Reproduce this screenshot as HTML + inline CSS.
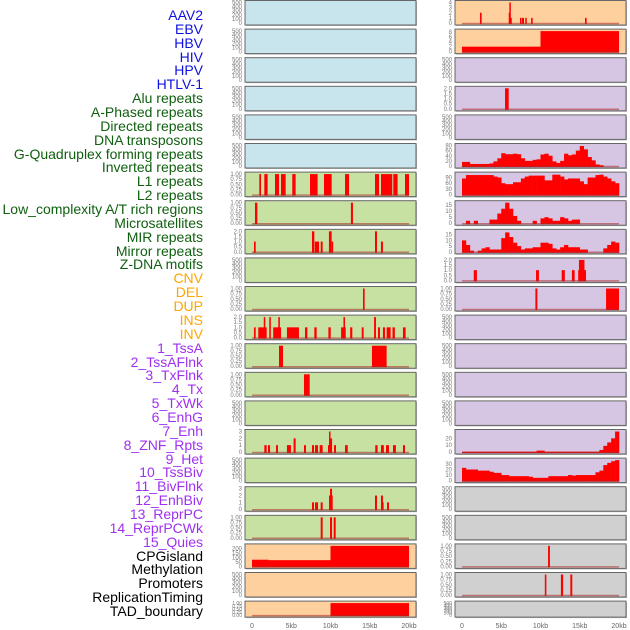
<!DOCTYPE html>
<html><head><meta charset="utf-8">
<style>
html,body{margin:0;padding:0;background:#fff;}
body{width:630px;height:630px;overflow:hidden;position:relative;font-family:"Liberation Sans",sans-serif;}
.lbl{position:absolute;right:427px;font-size:14px;line-height:14px;white-space:nowrap;}
svg{position:absolute;left:0;top:0;}
</style></head>
<body>
<div id="labels"></div>
<svg id="chart" width="630" height="630"></svg>
<script>
// ---- labels ----
const labelNames=["AAV2","EBV","HBV","HIV","HPV","HTLV-1","Alu repeats","A-Phased repeats","Directed repeats","DNA transposons","G-Quadruplex forming repeats","Inverted repeats","L1 repeats","L2 repeats","Low_complexity A/T rich regions","Microsatellites","MIR repeats","Mirror repeats","Z-DNA motifs","CNV","DEL","DUP","INS","INV","1_TssA","2_TssAFlnk","3_TxFlnk","4_Tx","5_TxWk","6_EnhG","7_Enh","8_ZNF_Rpts","9_Het","10_TssBiv","11_BivFlnk","12_EnhBiv","13_ReprPC","14_ReprPCWk","15_Quies","CPGisland","Methylation","Promoters","ReplicationTiming","TAD_boundary"];
const labelGroups=[6,13,5,15,5];
const groupColors=["#1010e0","#106010","#ffa500","#a030f0","#000000"];

// ---- interval data [startKb, endKb, value] ----
const L1rep=[[0.93,1.15,1],[1.57,1.99,1],[2.93,3.44,1],[3.69,4.29,1],[5.13,5.56,1],[7.39,8.36,1],[9.17,10.15,1],[11.85,12.36,1],[15.67,16.18,1],[16.43,17.87,1],[18.0,18.55,1],[19.49,20,1]];
const L7rep=[[0.38,0.68,1],[12.6,12.86,1]];
const L8rep=[[0.25,0.47,1],[7.64,7.94,2],[8.0,8.54,1],[8.75,9.0,1],[9.8,10.15,2],[10.15,10.3,1],[15.67,15.92,2],[16.43,16.68,1]];
const L10rep=[[14.14,14.35,1]];
const L11rep=[[0.25,0.47,1],[0.8,1.87,1],[1.5,1.65,2],[2.2,2.4,2],[2.7,2.93,1],[2.93,3.7,1],[3.35,3.55,2],[4.45,5.98,1],[6.75,7.05,1],[7.94,8.24,1],[9.73,10.03,1],[11.35,11.94,1],[11.65,11.85,2],[12.5,12.78,1],[13.98,14.22,1],[15.55,15.79,2],[16.05,16.3,1],[16.68,16.94,1],[17.15,17.66,1],[17.9,18.2,1],[19.23,19.57,1]];
const L12rep=[[3.44,3.95,1],[15.28,17.15,1]];
const L13rep=[[6.62,7.35,1]];
const L15rep=[[1.57,1.87,1],[2.04,2.3,1],[3.06,3.31,1],[4.45,4.96,1],[5.3,5.56,2],[6.62,6.88,1],[7.64,7.9,1],[8.03,8.41,1],[8.62,9.0,1],[9.68,10.0,1],[9.81,9.94,3],[10.0,10.2,2],[10.45,10.7,1],[11.85,12.2,1],[15.7,16.0,1],[16.43,16.8,1],[17.07,17.45,1],[17.96,18.33,1],[19.23,19.49,1]];
const L17rep=[[7.64,7.9,1],[8.03,8.41,1],[8.75,9.0,1],[9.81,10.03,2],[9.94,10.2,3],[10.07,10.28,2],[15.67,15.92,2],[16.43,16.68,2],[16.55,16.77,1],[17.2,17.45,1]];
const L18rep=[[8.75,9.0,1],[9.94,10.2,1],[10.41,10.66,1]];
const cpgRep=[[0,2.1,75],[2.1,10,70],[10,20,230]];
const tadRep=[[10,20,1]];
const aavRep=[[2.29,2.5,2],[5.95,6.05,2],[6.03,6.15,4],[6.15,6.25,1],[7.39,7.56,1],[7.64,7.9,1],[8.06,8.24,1],[8.8,9.0,1],[15.67,15.88,1]];
const ebvRep=[[0,10,2],[10,20,8.3]];
const R3rep=[[5.48,5.95,2]];
const R9rep=[[1.5,1.9,1],[9.43,9.8,1],[12.7,13.1,1],[14.0,14.35,1],[14.8,15.8,1],[14.9,15.6,2]];
const R10rep=[[9.35,9.6,1],[18.35,20,1]];
const R19rep=[[10.96,11.2,1]];
const R20rep=[[10.55,10.75,1],[12.6,12.88,1],[13.8,14.05,1]];

// ---- binned profiles (0.5kb bins, 0..20kb) ----
const g4Bins=[16,16,8,8,8,8,8,10,18,30,50,46,46,48,46,30,20,20,24,26,45,48,40,18,12,20,48,42,45,60,78,65,35,22,6,3,0,0,0,0];
const l1Bins=[85,103,103,103,103,103,103,103,95,90,60,55,55,65,65,85,95,100,100,100,100,75,75,105,105,95,80,85,85,85,70,55,90,90,103,105,95,85,70,60];
const l2Bins=[0,2,0,2,0,0,0,3,3,8,12,17,12,6,2,0,0,0,2,0,4,5,4,2,2,5,4,2,3,3,0,0,0,0,0,0,0,0,0,0];
const lowBins=[10,6,1,0,1,3,4,2,2,2,12,17,13,8,5,2,3,3,4,4,8,8,7,3,2,4,6,4,4,4,2,2,0,0,0,0,3,6,9,8];
const enhBins=[0.5,0.5,0.5,0.5,0.5,0.5,0.5,0.5,0.5,0.5,0.5,0.5,0.5,0.5,0.5,0.5,0.5,0.5,0.5,2,2,0.5,0.5,0.5,0.5,0.5,0.5,0.5,0.5,0.5,0.5,0.5,0.5,0.5,0.5,3,9,14,20,30];
const hetBins=[23,20,20,20,18,18,18,16,14,14,10,10,8,8,8,8,8,7,5,5,5,5,8,8,8,8,8,10,9,10,10,10,10,10,15,18,28,32,35,37];

// ---- tick label arrays ----
const ticksBlank=["0","100","200","300","400","500"];
const ticks1=["0.00","0.25","0.50","0.75","1.00"];
const ticks2=["0.0","0.5","1.0","1.5","2.0"];
const ticks3=["0","1","2","3"];
const ticks4=["0","1","2","3","4"];
const ticks8=["0","2","4","6","8"];
const ticks80=["0","20","40","60","80"];
const ticks90=["0","30","60","90"];
const ticks15=["0","5","10","15"];
const ticks20=["0","10","20"];
const ticks30=["0","10","20","30"];
const ticks200=["0","50","100","150","200"];
const xTickLabels=["0","5kb","10kb","15kb","20kb"];
const xTickKb=[0,5,10,15,20];

const BG={b:"#c8e4ec",g:"#c7e1a3",o:"#fdd09d",p:"#d6c6e3",k:"#d0d0d0"};
// [bg, data, kind, ymax, ticks]
const leftPanels=[
["b",null,"none",500,ticksBlank],["b",null,"none",500,ticksBlank],["b",null,"none",500,ticksBlank],["b",null,"none",500,ticksBlank],["b",null,"none",500,ticksBlank],["b",null,"none",500,ticksBlank],
["g",L1rep,"iv",1,ticks1],["g",L7rep,"iv",1,ticks1],["g",L8rep,"iv",2,ticks2],["g",null,"none",500,ticksBlank],["g",L10rep,"iv",1,ticks1],["g",L11rep,"iv",2,ticks2],["g",L12rep,"iv",1,ticks1],["g",L13rep,"iv",1,ticks1],["g",null,"none",500,ticksBlank],["g",L15rep,"iv",3,ticks3],["g",null,"none",500,ticksBlank],["g",L17rep,"iv",3,ticks3],["g",L18rep,"iv",1,ticks1],
["o",cpgRep,"iv",230,ticks200],["o",null,"none",500,ticksBlank],["o",tadRep,"iv",1,ticks1]];
const rightPanels=[
["o",aavRep,"iv",4,ticks4],["o",ebvRep,"iv",8.3,ticks8],
["p",null,"none",500,ticksBlank],["p",R3rep,"iv",2,ticks2],["p",null,"none",500,ticksBlank],["p",g4Bins,"bin",80,ticks80],["p",l1Bins,"bin",108,ticks90],["p",l2Bins,"bin",17,ticks15],["p",lowBins,"bin",18,ticks15],["p",R9rep,"iv",2,ticks2],["p",R10rep,"iv",1,ticks1],["p",null,"none",500,ticksBlank],["p",null,"none",500,ticksBlank],["p",null,"none",500,ticksBlank],["p",null,"none",500,ticksBlank],["p",enhBins,"bin",30,ticks20],["p",hetBins,"bin",37,ticks30],
["k",null,"none",500,ticksBlank],["k",null,"none",500,ticksBlank],["k",R19rep,"iv",1,ticks1],["k",R20rep,"iv",1,ticks1],["k",null,"none",500,ticksBlank]];

// ---- render labels ----
const lab=document.getElementById('labels');
let gi=0,cnt=0;
labelNames.forEach((t,i)=>{
  while(cnt>=labelGroups[gi]){gi++;cnt=0;}
  cnt++;
  const d=document.createElement('div');
  d.className='lbl';
  d.style.top=(8+i*13.86)+'px';
  d.style.color=groupColors[gi];
  d.textContent=t;
  
  
  lab.appendChild(d);
});

// ---- render panels ----
const NS="http://www.w3.org/2000/svg";
const svg=document.getElementById('chart');
function mk(tag,attrs,parent){const e=document.createElementNS(NS,tag);for(const k in attrs)e.setAttribute(k,attrs[k]);(parent||svg).appendChild(e);return e;}
const cols=[{x0:245,x1:416,d0:252,d1:409,lx:242},{x0:455,x1:626,d0:462,d1:619,lx:452}];
function rowTop(i){return 0.5+i*28.6;}
function rowH(i){return i===21?16:24.5;}
function xs(c,kb){return c.d0+kb/20*(c.d1-c.d0);}
function ys(top,h,v,max){return top+h-2-v/max*(h-4);}

[leftPanels,rightPanels].forEach((panels,ci)=>{
  const c=cols[ci];
  panels.forEach((p,i)=>{
    const [bg,data,kind,ymax,ticks]=p;
    const top=rowTop(i), PH=rowH(i);
    const g=mk('g',{});
    
    
    const shadow=mk('rect',{x:c.x0+1,y:top+1,width:c.x1-c.x0,height:PH,fill:'#b8b8b8'},g);
    
    
    const r=mk('rect',{x:c.x0,y:top,width:c.x1-c.x0,height:PH,fill:BG[bg],stroke:'#666',"stroke-width":1},g);
    
    
    const n=ticks.length;
    const tmax=ymax===500?500:parseFloat(ticks[n-1]);
    ticks.forEach((t,k)=>{
      const v=k/(n-1)*tmax;
      const yy=ys(top,PH,v,ymax===500?500:ymax);
      const tx=mk('text',{x:c.lx,y:yy+2,"font-size":PH<20?5:6,fill:'#777',"text-anchor":'end',"font-family":'Liberation Sans, sans-serif'},g);
      tx.textContent=t;
      
      
    });
    if(kind==='none')return;
    const base=ys(top,PH,0,ymax);
    if(kind==='iv'){
      data.forEach(d=>{
        const x1=xs(c,d[0]),x2=xs(c,d[1]);
        const yy=ys(top,PH,Math.min(d[2],ymax),ymax);
        const b=mk('rect',{x:x1,y:yy,width:Math.max(1.5,x2-x1),height:base-yy+1,fill:'#ff0000'},g);
        
        
      });
    }else{
      data.forEach((v,k)=>{
        if(v<=0)return;
        const x1=xs(c,k*0.5),x2=xs(c,(k+1)*0.5);
        const yy=ys(top,PH,Math.min(v,ymax),ymax);
        const b=mk('rect',{x:x1,y:yy,width:x2-x1+0.3,height:base-yy+1,fill:'#ff0000'},g);
        
        
      });
    }
    const zl=mk('line',{x1:xs(c,0),x2:xs(c,20),y1:base+0.5,y2:base+0.5,stroke:'rgba(170,40,40,0.55)',"stroke-width":1.5},g);
    
    
  });
  xTickKb.forEach((kb,k)=>{
    const t=mk('text',{x:xs(c,kb),y:628,"font-size":7,fill:'#666',"text-anchor":'middle',"font-family":'Liberation Sans, sans-serif'});
    t.textContent=xTickLabels[k];
    
    
  });
});
</script>
</body></html>
